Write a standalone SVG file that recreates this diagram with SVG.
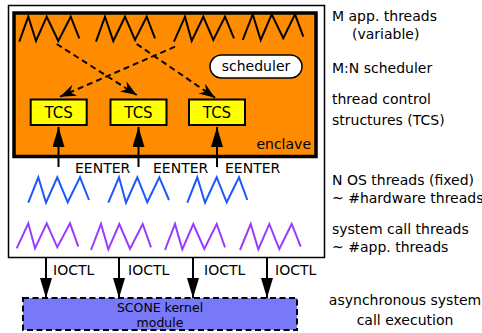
<svg xmlns="http://www.w3.org/2000/svg" width="482" height="333" viewBox="0 0 482 333">
<style>
text{font-family:"DejaVu Sans","Liberation Sans",sans-serif;font-size:14px;fill:#000}
.zz{fill:none;stroke-width:2;stroke-linejoin:miter}
.k{stroke:#000}
.b{stroke:#1d58ff}
.p{stroke:#9a3cff}
.dash{fill:none;stroke:#000;stroke-width:2;stroke-dasharray:6 4}
.sol{stroke:#000;stroke-width:2;fill:none}
.tcs{fill:#ffff00;stroke:#000;stroke-width:2}
</style>
<defs>
<marker id="barb" markerUnits="userSpaceOnUse" markerWidth="18" markerHeight="14" refX="16" refY="6" orient="auto">
<path d="M0,0 L16,6 L0,12 L5,6 z" fill="#000"/>
</marker>
<marker id="tri" markerUnits="userSpaceOnUse" markerWidth="22" markerHeight="14" refX="20" refY="6" orient="auto">
<path d="M0,0 L20,6 L0,12 z" fill="#000"/>
</marker>
</defs>
<g id="host">
<rect x="8.5" y="5.5" width="316" height="252" fill="#fff" stroke="#000" stroke-width="1.5"/>
</g>
<g id="enclave">
<rect x="14" y="13" width="302" height="143.5" fill="#ff8c00" stroke="#000" stroke-width="3.5"/>
<text x="311" y="149" text-anchor="end">enclave</text>
</g>
<g id="app-threads">
<polyline class="zz k" points="19.3,41.7 28.3,16.7 36,41 46.7,16.7 58.3,41 70.7,16.7 79.3,38.3"/>
<polyline class="zz k" points="96,41.7 105,16.7 113.3,41 125,16.7 135,40 146.7,16.7 155,38.3"/>
<polyline class="zz k" points="174,41.7 185,16.7 191.7,41 203.3,16.7 213.3,40 225,16.7 234,38.3"/>
<polyline class="zz k" points="242.7,40 252.7,14.3 260.7,40 271.7,14.3 283.3,38.3 295,14.3 303.3,36.7"/>
</g>
<g id="scheduler">
<rect x="210" y="55" width="92" height="23" rx="11.5" fill="#fff" stroke="#000" stroke-width="1.5"/>
<text x="256" y="71" text-anchor="middle">scheduler</text>
</g>
<g id="tcs1">
<rect class="tcs" x="30.7" y="99.5" width="56" height="25.5"/>
<text x="58.7" y="118" text-anchor="middle" style="font-size:15px">TCS</text>
</g>
<g id="tcs2">
<rect class="tcs" x="110.5" y="99.5" width="56" height="25.5"/>
<text x="138.5" y="118" text-anchor="middle" style="font-size:15px">TCS</text>
</g>
<g id="tcs3">
<rect class="tcs" x="189" y="99.5" width="56" height="25.5"/>
<text x="217" y="118" text-anchor="middle" style="font-size:15px">TCS</text>
</g>
<g id="os-threads">
<polyline class="zz b" points="28.3,202.7 38.3,177.3 46,202.7 57.3,177.3 67.7,202.3 80,177.3 89,200"/>
<polyline class="zz b" points="108.3,202.7 119,177.3 126,202.7 137.3,177.3 147.3,202.3 159.3,177.3 169,200"/>
<polyline class="zz b" points="187.3,202.7 197.3,177.3 205,202.7 216.7,177.3 226.7,202.3 239,177.3 247.3,200"/>
</g>
<g id="syscall-threads">
<polyline class="zz p" points="16.7,248.3 28.3,223.3 35,248.3 46.7,223.3 57.3,247.3 70,223.3 78.3,246.7"/>
<polyline class="zz p" points="91,250 101,224 108.3,249.3 119.3,224 130,249 142.7,224 151,247.3"/>
<polyline class="zz p" points="165,250 175,224 182.3,249.3 193.3,224 204.3,249 216.7,224 225,247.3"/>
<polyline class="zz p" points="240,250 250.7,224 258.3,249.3 269.3,224 279.3,249 291.7,224 300.7,246.7"/>
</g>
<g id="kernel-module">
<rect x="23" y="298" width="274" height="32" fill="#7878f8" stroke="#000" stroke-width="2" stroke-dasharray="6 3.5"/>
<text x="160" y="312" text-anchor="middle" style="font-size:12.5px">SCONE kernel</text>
<text x="160" y="326.5" text-anchor="middle" style="font-size:12.5px">module</text>
</g>
<g id="connectors">
<path class="dash" d="M56.7,44 L136.7,95" marker-end="url(#barb)"/>
<path class="dash" d="M136.7,44 L215,97.7" marker-end="url(#barb)"/>
<path class="dash" d="M175,46.7 L60,96.7" marker-end="url(#barb)"/>
<path class="sol" d="M58.5,167 L58.5,127" marker-end="url(#tri)"/>
<path class="sol" d="M138.5,167 L138.5,127" marker-end="url(#tri)"/>
<path class="sol" d="M217,167 L217,127" marker-end="url(#tri)"/>
<path class="sol" d="M46,257.5 L46,298" marker-end="url(#tri)"/>
<path class="sol" d="M119,257.5 L119,298" marker-end="url(#tri)"/>
<path class="sol" d="M193,257.5 L193,298" marker-end="url(#tri)"/>
<path class="sol" d="M267,257.5 L267,298" marker-end="url(#tri)"/>
<text x="75" y="173">EENTER</text>
<text x="153" y="173">EENTER</text>
<text x="225" y="173">EENTER</text>
<text x="53" y="275">IOCTL</text>
<text x="128" y="275">IOCTL</text>
<text x="204" y="275">IOCTL</text>
<text x="275" y="275">IOCTL</text>
</g>
<g id="labels">
<text x="332" y="21">M app. threads</text>
<text x="352" y="39">(variable)</text>
<text x="332" y="73">M:N scheduler</text>
<text x="332" y="104">thread control</text>
<text x="332" y="125">structures (TCS)</text>
<text x="332" y="185">N OS threads (fixed)</text>
<text x="332" y="203">~ #hardware threads</text>
<text x="332" y="234">system call threads</text>
<text x="332" y="252">~ #app. threads</text>
<text x="405" y="305" text-anchor="middle">asynchronous system</text>
<text x="405" y="325" text-anchor="middle">call execution</text>
</g>
</svg>
